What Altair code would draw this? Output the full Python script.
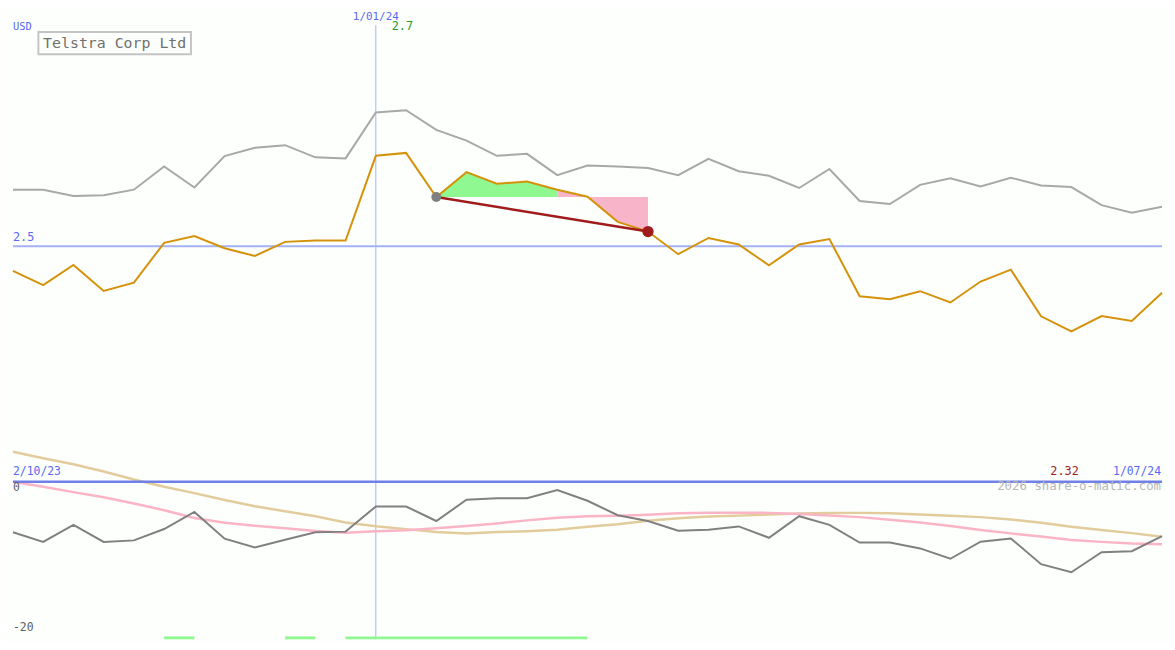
import altair as alt
import pandas as pd

W, H = 1159, 634
SX, SY = W / 1175, H / 650

# ---- data (weekly points, index 0..38) ----
weeks = list(range(39))
telstra = [2.4811, 2.4703, 2.4856, 2.4658, 2.4721, 2.5026, 2.5078, 2.4984, 2.4925, 2.5033,
           2.5043, 2.5043, 2.5691, 2.5713, 2.5376, 2.5566, 2.5477, 2.5494, 2.5432, 2.5378,
           2.5186, 2.5112, 2.4939, 2.5063, 2.5013, 2.4854, 2.5013, 2.5055, 2.4617, 2.4595,
           2.4656, 2.4570, 2.4730, 2.4821, 2.4464, 2.4348, 2.4466, 2.4429, 2.4644]
benchmark = [2.5432, 2.5432, 2.5383, 2.5390, 2.5432, 2.5610, 2.5449, 2.5689, 2.5753, 2.5772,
             2.5679, 2.5671, 2.6022, 2.6039, 2.5889, 2.5807, 2.5691, 2.5706, 2.5543, 2.5617,
             2.5610, 2.5597, 2.5543, 2.5667, 2.5573, 2.5538, 2.5445, 2.5590, 2.5346, 2.5322,
             2.5469, 2.5519, 2.5457, 2.5523, 2.5464, 2.5452, 2.5314, 2.5255, 2.5302]
oscillator = [-6.42, -7.64, -5.48, -7.64, -7.45, -6.01, -3.84, -7.24, -8.34, -7.36,
              -6.42, -6.34, -3.15, -3.15, -4.99, -2.29, -2.09, -2.09, -1.07, -2.42,
              -4.26, -4.99, -6.22, -6.10, -5.68, -7.12, -4.38, -5.48, -7.73, -7.73,
              -8.47, -9.78, -7.61, -7.20, -10.47, -11.50, -8.96, -8.83, -6.91]
avg_fast = [0.0, -0.65, -1.33, -1.98, -2.77, -3.62, -4.60, -5.21, -5.60, -5.90,
            -6.26, -6.47, -6.28, -6.16, -5.91, -5.62, -5.30, -4.91, -4.58, -4.39,
            -4.33, -4.21, -4.02, -3.94, -3.95, -3.96, -4.11, -4.29, -4.50, -4.82,
            -5.19, -5.62, -6.12, -6.56, -6.97, -7.39, -7.64, -7.85, -7.94]
avg_slow = [3.80, 2.97, 2.21, 1.29, 0.27, -0.64, -1.45, -2.32, -3.13, -3.75,
            -4.39, -5.18, -5.66, -6.02, -6.39, -6.59, -6.40, -6.28, -6.10, -5.71,
            -5.41, -4.97, -4.64, -4.43, -4.31, -4.16, -4.05, -3.98, -3.96, -4.02,
            -4.17, -4.32, -4.50, -4.81, -5.21, -5.71, -6.13, -6.53, -6.99]
buy_start = [5, 9, 11]
buy_end = [6, 10, 19]
trade_start, trade_end, green_until = 14, 21, 18
date_line_week = 12

df = pd.DataFrame({"i": weeks, "price": telstra, "bench": benchmark,
                   "osc": oscillator, "fast": avg_fast, "slow": avg_slow})
level = telstra[trade_start]
df_green = df[(df.i >= trade_start) & (df.i <= green_until)].assign(level=level)
df_pink = df[(df.i >= green_until) & (df.i <= trade_end)].assign(level=level)
df_seg = df[df.i.isin([trade_start, trade_end])]
df_bars = pd.DataFrame({"s": buy_start, "e": buy_end})
one = pd.DataFrame({"a": [0]})

xs = alt.Scale(domain=[0, 38], nice=False, zero=False)
ys_up = alt.Scale(domain=[2.32, 2.68], range=[487 * SY, 0], nice=False, zero=False)
ys_lo = alt.Scale(domain=[-20, 0], range=[650 * SY, 487 * SY], nice=False, zero=False)
X = alt.X("i:Q", scale=xs, axis=None)
FONT = "DejaVu Sans Mono"


def yu(field):
    return alt.Y(field, scale=ys_up, axis=None)


def yl(field):
    return alt.Y(field, scale=ys_lo, axis=None)


layers = []

# fills
layers.append(alt.Chart(df_green).mark_area(color="#90f890", opacity=1).encode(
    x=X, y=yu("price:Q"), y2="level:Q"))
layers.append(alt.Chart(df_pink).mark_area(color="#f8b4c8", opacity=1).encode(
    x=X, y=yu("price:Q"), y2="level:Q"))

# reference lines
layers.append(alt.Chart(one).mark_rule(color="#a4b2f4", strokeWidth=2).encode(
    y=alt.Y(datum=2.5, scale=ys_up, axis=None)))
layers.append(alt.Chart(one).mark_rule(color="#a4b2f4", strokeWidth=1).encode(
    x=alt.X(datum=date_line_week, scale=xs, axis=None),
    y=alt.value(15 * SY), y2=alt.value(H)))

# lower panel
layers.append(alt.Chart(df_bars).mark_rect(color="#90f890").encode(
    x=alt.X("s:Q", scale=xs, axis=None), x2="e:Q",
    y=alt.value(647 * SY), y2=alt.value(H)))
layers.append(alt.Chart(df).mark_line(color="#e2cc9c", strokeWidth=2.5).encode(x=X, y=yl("slow:Q")))
layers.append(alt.Chart(df).mark_line(color="#fbb4c6", strokeWidth=2.5).encode(x=X, y=yl("fast:Q")))
layers.append(alt.Chart(df).mark_line(color="#808080", strokeWidth=2).encode(x=X, y=yl("osc:Q")))
layers.append(alt.Chart(one).mark_rule(color="#7080e8", strokeWidth=2.5).encode(
    y=alt.Y(datum=0, scale=ys_lo, axis=None)))

# upper panel lines
layers.append(alt.Chart(df).mark_line(color="#a8a8a8", strokeWidth=2).encode(x=X, y=yu("bench:Q")))
layers.append(alt.Chart(df).mark_line(color="#d4920a", strokeWidth=2).encode(x=X, y=yu("price:Q")))
layers.append(alt.Chart(df_seg).mark_line(color="#a01c1c", strokeWidth=2.5).encode(x=X, y=yu("price:Q")))
layers.append(alt.Chart(df_seg[df_seg.i == trade_start]).mark_circle(
    color="#808080", opacity=1, size=100).encode(x=X, y=yu("price:Q")))
layers.append(alt.Chart(df_seg[df_seg.i == trade_end]).mark_circle(
    color="#a01c1c", opacity=1, size=130).encode(x=X, y=yu("price:Q")))

# title box
layers.append(alt.Chart(one).mark_rect(filled=False, stroke="#c4c4c4", strokeWidth=2).encode(
    x=alt.value(26 * SX), x2=alt.value(182 * SX), y=alt.value(22 * SY), y2=alt.value(45 * SY)))


def txt(text, x, y, color, size=10.5, align="left", baseline="top", weight="normal"):
    return alt.Chart(one).mark_text(text=text, font=FONT, fontSize=size, color=color,
                                    align=align, baseline=baseline, fontWeight=weight).encode(
        x=alt.value(x * SX), y=alt.value(y * SY))


layers.append(txt("Telstra Corp Ltd", 104, 26, "#707070", size=15, align="center"))
layers.append(txt("USD", 0, 12, "#5a6af0", size=10.5))
layers.append(txt("2.5", 0, 229, "#5a6af0", size=12))
layers.append(txt("2/10/23", 0, 471, "#5a6af0", size=11.5))
layers.append(txt("0", 0, 487, "#606060", size=11.5))
layers.append(txt("-20", 0, 632, "#606060", size=11.5))
layers.append(txt("2.32", 1090, 471, "#a01c1c", size=12, align="right"))
layers.append(txt("1/07/24", 1174, 471, "#5a6af0", size=11.5, align="right"))
layers.append(txt("2026 share-o-matic.com", 1174, 485, "#b8b8b8", size=12.5, align="right"))
layers.append(alt.Chart(one).mark_text(text="1/01/24", font=FONT, fontSize=11, color="#5a6af0",
                                       align="center", baseline="top").encode(
    x=alt.X(datum=date_line_week, scale=xs, axis=None), y=alt.value(0)))
layers.append(alt.Chart(one).mark_text(text="2.7", font=FONT, fontSize=12, color="#2a9a2a",
                                       align="left", baseline="top", dx=16).encode(
    x=alt.X(datum=date_line_week, scale=xs, axis=None), y=alt.value(11 * SY)))

chart = alt.layer(*layers).resolve_scale(y="independent").properties(
    width=W, height=H, padding=0, background="#fcfffc"
).configure_view(stroke=None)

chart.save("out.html", embed_options={"renderer": "svg", "actions": False})
